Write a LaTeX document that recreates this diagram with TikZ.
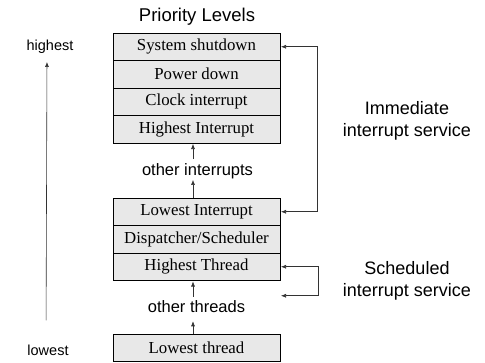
\documentclass[tikz,border=0pt]{standalone}
\usepackage{fontspec}
\setmainfont{Liberation Serif}
\setsansfont{Liberation Sans}
\usetikzlibrary{positioning,arrows.meta}

\begin{document}
\begin{tikzpicture}[x=1pt, y=-1pt, node distance=0pt,
  lvl/.style={draw, fill=gray!18, minimum width=167pt, minimum height=27.5pt, inner sep=0pt, outer sep=0pt, font=\fontsize{16.8}{18}\selectfont},
  lbl/.style={font=\sffamily\fontsize{16.5}{18}\selectfont, inner sep=0pt},
  side/.style={font=\sffamily\fontsize{14.5}{16}\selectfont, inner sep=0pt},
  big/.style={font=\sffamily\fontsize{18}{22}\selectfont, align=center, inner sep=0pt},
  arr/.style={-{Latex[length=5pt,width=4pt]}, semithick, draw=black!80},
  dbl/.style={{Latex[length=5pt,width=4pt]}-{Latex[length=5pt,width=4pt]}, semithick, draw=black!80}]
\useasboundingbox (0,0) rectangle (485,362);
% priority stack
\node[font=\sffamily\fontsize{18.5}{20}\selectfont, inner sep=0pt] (title) at (197,17) {Priority Levels};
\node[lvl] (sys) at (196.5,46.75) {System shutdown};
\node[lvl, below=of sys] (pwr) {Power down};
\node[lvl, below=of pwr] (clk) {Clock interrupt};
\node[lvl, below=of clk] (hiint) {Highest Interrupt};
\node[lbl] (oint) at (197.5,171) {other interrupts};
\node[lvl] (loint) at (196.5,211.75) {Lowest Interrupt};
\node[lvl, below=of loint] (disp) {Dispatcher/Scheduler};
\node[lvl, below=of disp] (hith) {Highest Thread};
\node[lbl] (othr) at (196.5,307) {other threads};
\node[lvl] (loth) at (196.5,347.75) {Lowest thread};
\draw[arr, shorten <=4pt, shorten >=1pt] (oint.north -| hiint.south) ++(-3.5,0) -- ([xshift=-3.5pt]hiint.south);
\draw[arr, shorten >=1pt] ([xshift=-3.5pt]loint.north) -- ([xshift=-3.5pt]loint.north |- oint.south);
\draw[arr, shorten <=4pt, shorten >=1pt] ([xshift=-3.5pt]othr.north) -- ([xshift=-3.5pt]hith.south);
\draw[arr, shorten >=8pt] ([xshift=-3.5pt]loth.north) -- ([xshift=-3.5pt]othr.south);
% highest / lowest
\node[side] (high) at (50,47) {highest};
\node[side] (low) at (48,350) {lowest};
\draw[arr, shorten <=24pt, shorten >=8pt] ([xshift=-2pt]low.north) -- ([xshift=-3pt]high.south);
% service brackets
\coordinate (immx) at ([xshift=37pt]sys.east);
\draw[dbl, shorten <=1pt, shorten >=1pt] (sys.east) -- (immx) |- (loint.east);
\node[big] (imm) at (407,121) {Immediate\\interrupt service};
\coordinate (schx) at ([xshift=38pt]hith.east);
\coordinate (schend) at ([yshift=-29pt]hith.east);
\draw[dbl, shorten <=1pt, shorten >=1pt] (hith.east) -- (schx) |- (schend);
\node[big] (sch) at (407,281) {Scheduled\\interrupt service};
\end{tikzpicture}
\end{document}
